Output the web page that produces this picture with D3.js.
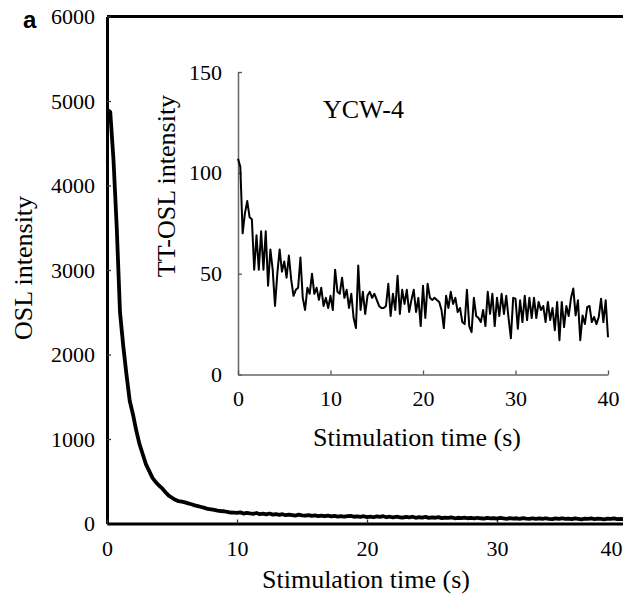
<!DOCTYPE html>
<html><head><meta charset="utf-8">
<script src="https://cdn.jsdelivr.net/npm/d3@7"></script>
<style>body{margin:0;background:#fff}svg{display:block}</style>
</head><body>
<svg id="chart" width="623" height="598"></svg>
<script>
// ---- data ----
const panelLabel = "a";
const sampleStep = 0.25; // seconds between channels
const mainXTicks = [0, 10, 20, 30, 40];
const mainYTicks = [0, 1000, 2000, 3000, 4000, 5000, 6000];
const insetXTicks = [0, 10, 20, 30, 40];
const insetYTicks = [0, 50, 100, 150];
const mainXTitle = "Stimulation time (s)";
const mainYTitle = "OSL intensity";
const insetXTitle = "Stimulation time (s)";
const insetYTitle = "TT-OSL intensity";
const sampleName = "YCW-4";

// OSL decay (main panel), t = 0 .. 40 s
const oslIntensity = [
  4900, 4870, 4300, 3500, 2500, 2100, 1760, 1450, 1290, 1100, 940, 820, 700, 620, 540, 490,
  450, 415, 370, 330, 305, 280, 265, 258, 250, 238, 228, 215, 205, 195, 185, 172, 168, 160,
  152, 148, 145, 138, 130, 128, 125,
  132, 118, 126, 120, 115, 124, 110, 116, 108, 118, 105, 112, 102, 110, 98, 106, 100, 94, 104, 96,
  92, 100, 90, 96, 88, 94, 86, 92, 84, 90, 82, 88, 80, 86, 90, 80, 84, 78, 86, 76,
  82, 74, 84, 78, 86, 74, 80, 72, 80, 74, 70, 78, 72, 80, 68, 74, 70, 78, 66, 72,
  68, 76, 64, 70, 66, 72, 62, 68, 64, 70, 62, 66, 60, 68, 62, 58, 66, 60, 64, 58,
  66, 60, 56, 64, 58, 62, 56, 64, 58, 54, 62, 56, 60, 54, 62, 56, 52, 60, 56, 62,
  54, 58, 52, 60, 56, 50, 58, 54, 60, 52, 58, 54, 50, 58, 54, 60, 52, 56, 50, 56
];

// TT-OSL decay (inset), t = 0 .. 40 s
const ttOslIntensity = [
  107, 103, 70, 80, 86, 78, 77, 52, 69, 52, 71, 52, 71, 44, 62, 52, 34, 50, 62, 51,
  56, 48, 59, 47, 39, 42, 43, 58, 38, 32, 43, 40, 50, 40, 43, 37, 43, 34, 38,
  33, 39, 32, 52, 41, 40, 48, 38, 42, 33, 40, 28, 23, 54, 32, 41, 30, 39, 41, 38,
  40, 37, 34, 33, 33, 34, 45, 29, 40, 32, 49, 30, 42, 35, 42, 31, 37, 42, 31, 38, 24, 44,
  28, 45, 38, 37, 38, 37, 36, 32, 23, 39, 33, 41, 35, 38, 31, 33, 26, 25, 42, 24,
  21, 38, 29, 28, 26, 32, 24, 41, 30, 40, 24, 38, 29, 40, 30, 39, 28, 18, 38,
  37.6, 22.7, 36.8, 26, 39, 27, 38, 28, 38, 28, 36, 32, 34, 26, 36, 27, 33, 22, 36, 17,
  36, 23.5, 34, 29, 38, 42.6, 29.3, 36.8, 17, 29.3, 25, 33.4, 34, 26, 28.5, 25, 28.5,
  37.6, 26, 36.8, 18.5
];

// ---- drawing ----
const W = 623;
const svg = d3.select("#chart");
const serif = "'Liberation Serif','Times New Roman',Times,serif";

const mainData = oslIntensity.map((v, i) => ({ t: i * sampleStep, v }));
const insetData = ttOslIntensity.map((v, i) => ({ t: i * sampleStep, v }));

// main scales
const x = d3.scaleLinear().domain([0, 40]).range([107, 627]);
const y = d3.scaleLinear().domain([0, 6000]).range([523.5, 16.5]);

// inset scales
const xi = d3.scaleLinear().domain([0, 40]).range([238, 608]);
const yi = d3.scaleLinear().domain([0, 150]).range([374.5, 72]);

svg.append("defs").append("clipPath").attr("id", "mainClip")
  .append("rect").attr("x", x(0)).attr("y", y(6000)).attr("width", x(40) - x(0)).attr("height", y(0) - y(6000));

// main frame top line
svg.append("line")
  .attr("x1", x(0)).attr("x2", x(40)).attr("y1", y(6000)).attr("y2", y(6000))
  .attr("stroke", "#000").attr("stroke-width", 3);

// main axes
const gy = svg.append("g").attr("transform", `translate(${x(0)},0)`)
  .call(d3.axisLeft(y).tickValues(mainYTicks).tickFormat(d3.format("d")).tickSize(-4).tickSizeOuter(0).tickPadding(12));
const gx = svg.append("g").attr("transform", `translate(0,${y(0)})`)
  .call(d3.axisBottom(x).tickValues(mainXTicks).tickFormat(d3.format("d")).tickSize(-4).tickSizeOuter(0).tickPadding(17));
[gx, gy].forEach(g => {
  g.select(".domain").attr("stroke", "#000").attr("stroke-width", 3);
  g.selectAll(".tick line").attr("stroke", "#333").attr("stroke-width", 1.3);
  g.selectAll(".tick text").attr("fill", "#000").style("font-family", serif).style("font-size", "22px");
});
// keep the edge label inside the picture (as the original plotting program does)
gx.selectAll(".tick").each(function (d) {
  const px = x(d);
  const t = d3.select(this).select("text");
  const w = t.node().getComputedTextLength();
  if (px + w / 2 > W) t.attr("text-anchor", "end").attr("x", W - px - 1);
});

// main curve
svg.append("path").datum(mainData)
  .attr("clip-path", "url(#mainClip)")
  .attr("fill", "none").attr("stroke", "#000").attr("stroke-width", 3.8).attr("stroke-linejoin", "round")
  .attr("d", d3.line().x(d => x(d.t)).y(d => y(d.v)));

// inset axes
const giy = svg.append("g").attr("transform", `translate(${xi(0)},0)`)
  .call(d3.axisLeft(yi).tickValues(insetYTicks).tickFormat(d3.format("d")).tickSize(-4).tickSizeOuter(0).tickPadding(16));
const gix = svg.append("g").attr("transform", `translate(0,${yi(0)})`)
  .call(d3.axisBottom(xi).tickValues(insetXTicks).tickFormat(d3.format("d")).tickSize(-4).tickSizeOuter(0).tickPadding(16));
[gix, giy].forEach(g => {
  g.select(".domain").attr("stroke", "#666").attr("stroke-width", 1.5);
  g.selectAll(".tick line").attr("stroke", "#555").attr("stroke-width", 1.3);
  g.selectAll(".tick text").attr("fill", "#000").style("font-family", serif).style("font-size", "22px");
});

// inset curve
svg.append("path").datum(insetData)
  .attr("fill", "none").attr("stroke", "#000").attr("stroke-width", 2).attr("stroke-linejoin", "round")
  .attr("d", d3.line().x(d => xi(d.t)).y(d => yi(d.v)));

// texts
svg.append("text").attr("x", 23).attr("y", 28).text(panelLabel)
  .style("font-family", "'Liberation Sans',Arial,sans-serif").style("font-weight", "bold").style("font-size", "24px");

svg.append("text").attr("transform", "translate(32,268) rotate(-90)").attr("text-anchor", "middle")
  .style("font-family", serif).style("font-size", "26px").text(mainYTitle);
svg.append("text").attr("x", 366).attr("y", 588).attr("text-anchor", "middle")
  .style("font-family", serif).style("font-size", "26px").text(mainXTitle);

svg.append("text").attr("transform", "translate(175,186) rotate(-90)").attr("text-anchor", "middle")
  .style("font-family", serif).style("font-size", "26px").text(insetYTitle);
svg.append("text").attr("x", 417).attr("y", 446).attr("text-anchor", "middle")
  .style("font-family", serif).style("font-size", "26px").text(insetXTitle);

svg.append("text").attr("x", 323).attr("y", 118)
  .style("font-family", serif).style("font-size", "26px").text(sampleName);
</script>
</body></html>
